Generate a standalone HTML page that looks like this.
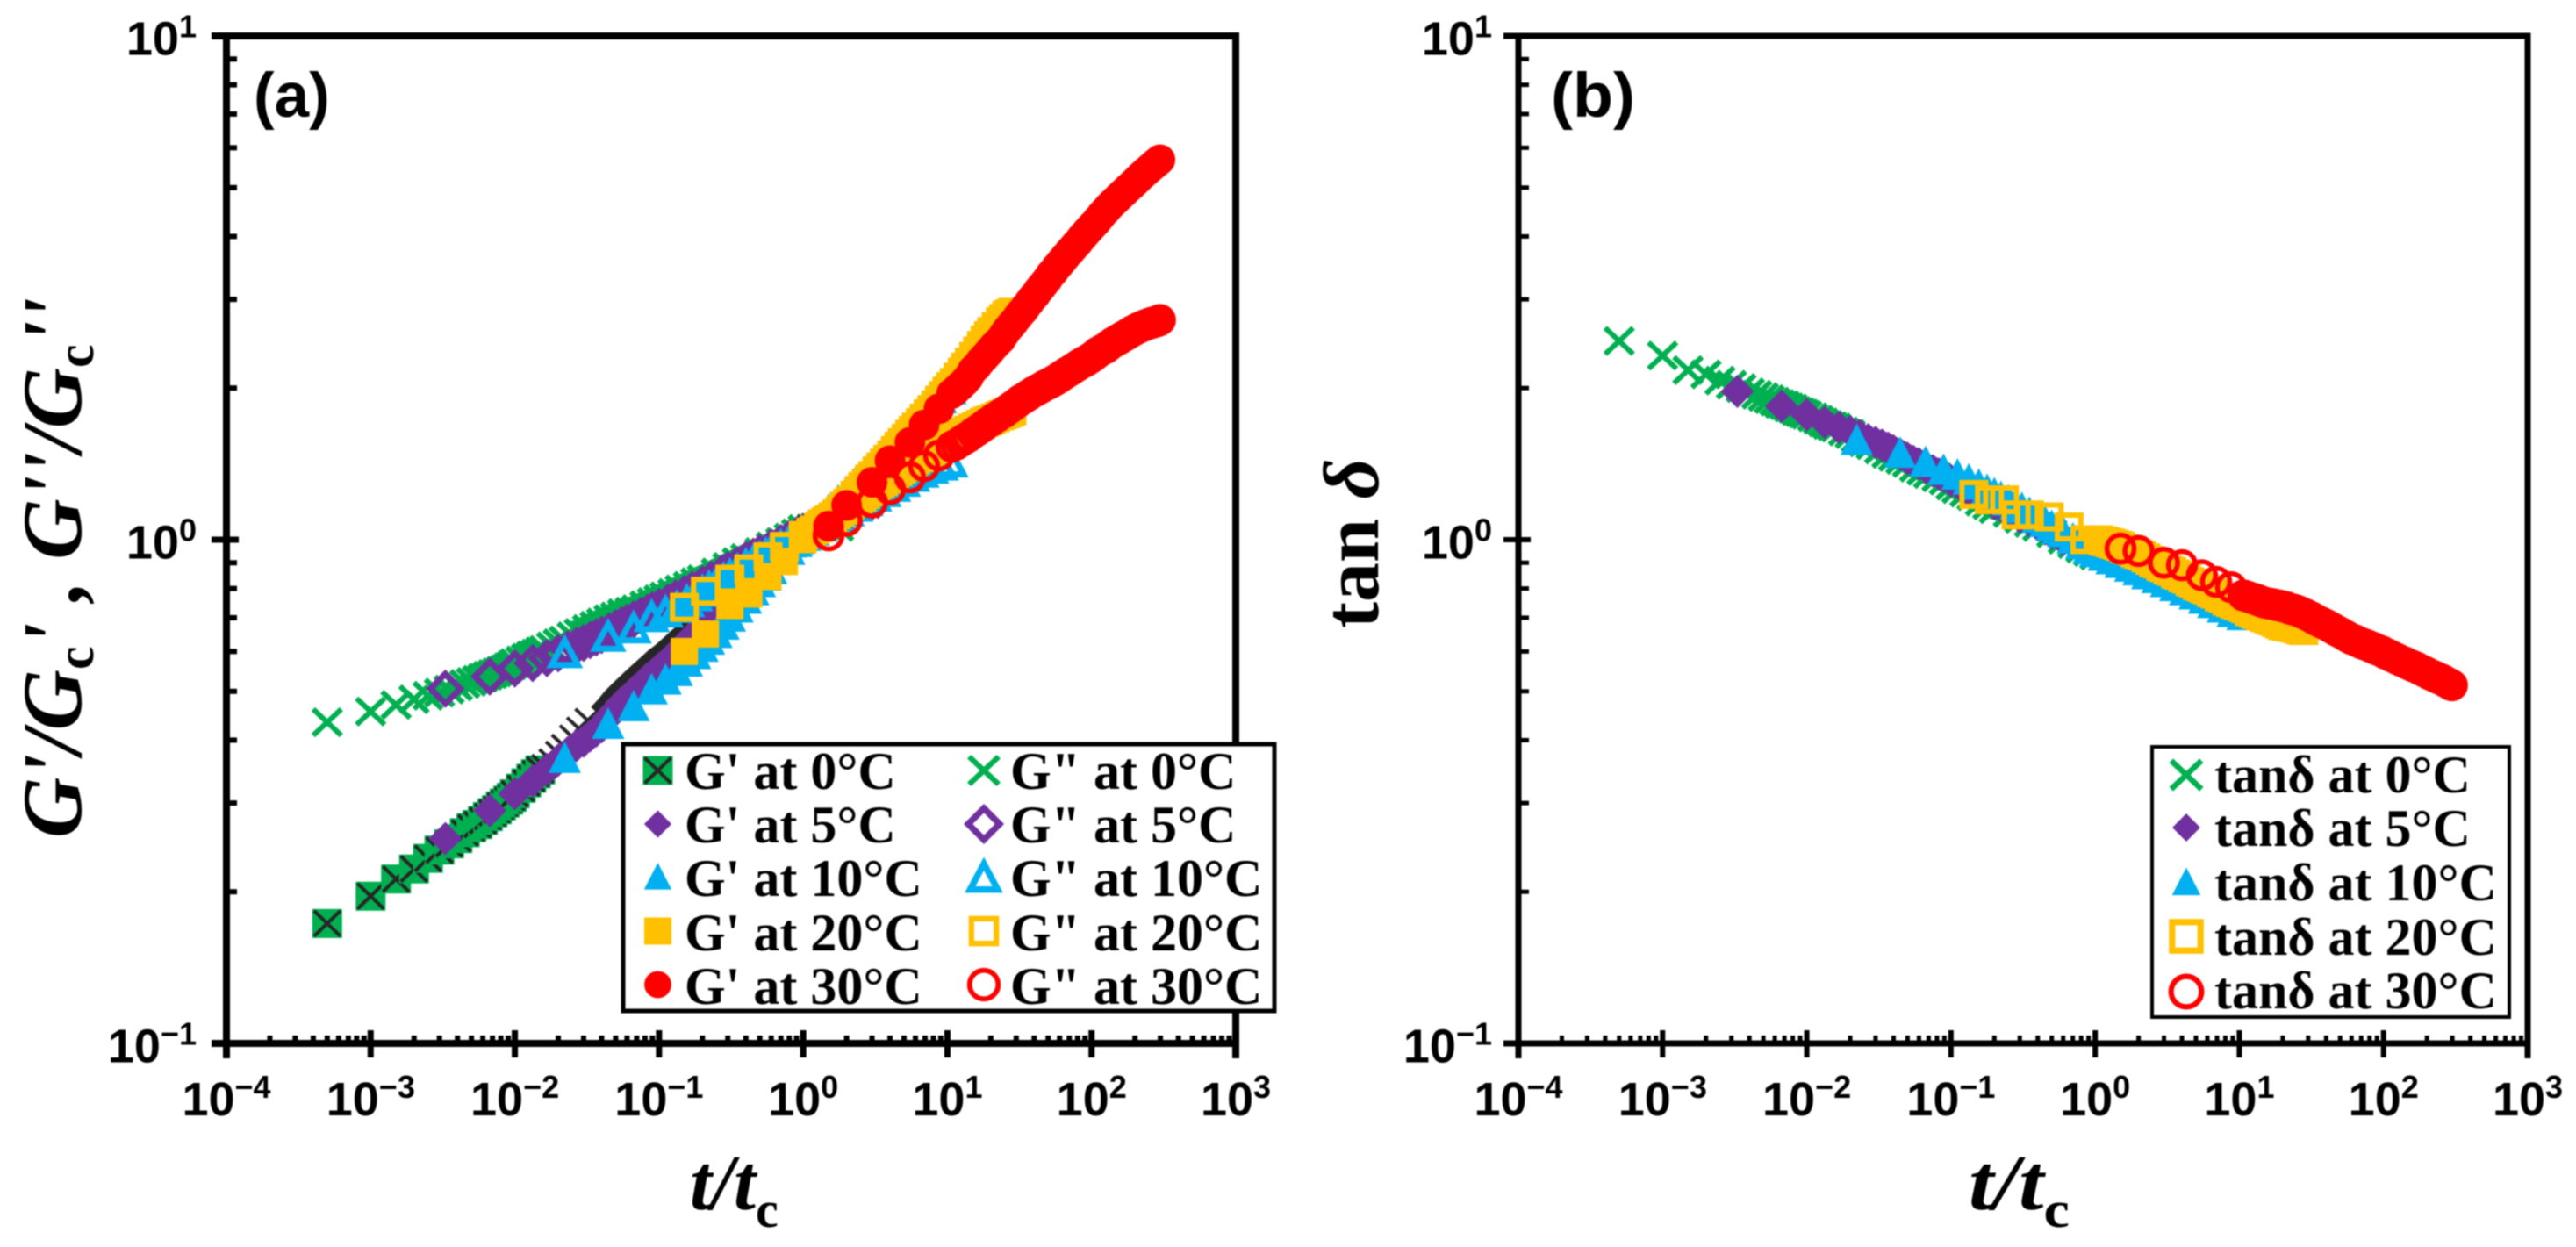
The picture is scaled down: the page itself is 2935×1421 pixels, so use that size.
<!DOCTYPE html>
<html lang="en">
<head>
<meta charset="utf-8">
<title>G'/Gc', G''/Gc'' and tan delta versus t/tc</title>
<style>
html,body{margin:0;padding:0;background:#fff;}
svg{display:block;filter:blur(0.7px);}
.tick{font-family:"Liberation Sans",sans-serif;font-weight:700;font-size:54px;fill:#000;}
.leg{font-family:"Liberation Serif",serif;font-weight:700;font-size:60px;fill:#000;}
.ttl{font-family:"Liberation Serif",serif;font-weight:700;font-style:italic;font-size:90px;fill:#000;}
.pl{font-family:"Liberation Sans",sans-serif;font-weight:700;font-size:71px;fill:#000;}
</style>
</head>
<body>
<svg id="fig" xmlns="http://www.w3.org/2000/svg" width="2935" height="1421" viewBox="0 0 2935 1421">
  <rect x="0" y="0" width="2935" height="1421" fill="#fff"/>
  <g id="panelA"></g>
  <g id="panelB"></g>
  <text class="pl" x="289" y="133">(a)</text>
  <text class="pl" x="1767" y="133" transform="translate(1767 0) scale(1.06 1) translate(-1767 0)">(b)</text>
  <text class="ttl" font-size="96" style="font-size:96px" transform="translate(92 955) rotate(-90)">G'/G<tspan dy="14" font-size="60" style="font-size:60px;font-style:normal">c</tspan><tspan dy="-14">' , G''/G</tspan><tspan dy="14" font-size="60" style="font-size:60px;font-style:normal">c</tspan><tspan dy="-14">''</tspan></text>
  <text class="ttl" x="786" y="1378">t/t<tspan dy="20" style="font-size:58px;font-style:normal">c</tspan></text>
  <text class="ttl" transform="translate(1570 716) rotate(-90)"><tspan style="font-style:normal">tan </tspan>δ</text>
  <text class="ttl" transform="translate(2243 1378) scale(1.14 1)">t/t<tspan dy="20" style="font-size:58px;font-style:normal">c</tspan></text>
</svg>
<script>
// ---------- tick data ----------
const xTickExps = [-4, -3, -2, -1, 0, 1, 2, 3];
const yTickExps = [-1, 0, 1];
const minorMults = [2, 3, 4, 5, 6, 7, 8, 9];

// ---------- reduced time per series ----------
const t0 = [.0005,.001,.0015,.002,.0025,.003,.0035,.004,.0045,.005,
  .0055,.006,.0065,.007,.0075,.008,.0085,.009,.0095,.01,
  .011,.012,.013,.014,.015,.016,.018,.02,.022,.025,
  .028,.032,.036,.04,.045,.05,.056,.063,.07,.08,
  .09,.1,.11,.125,.14,.16,.18,.2,.25,.3,
  .35,.4,.5,.6,.7,.8,.9,1];
const t0Tail = [.0005,.001,.0015,.002,.0025,.003,.0035,.004,.0045,.005,
  .0055,.006,.0065,.007,.0075,.008,.0085,.009,.0095,.01,
  .011,.012,.013,.014,.015,.016,.018,.02,.022,.025,
  .028,.032,.036,.04,.045,.05,.056,.063,.07,.08,
  .09,.1,.11,.125,.14,.16,.18,.2,.25,.3,
  .35,.4,.5,.6,.7,.8,.9,1,1.2,1.5,1.76];
const t5 = [.0033,.0067,.01,.0133,.0167,.02,.0233,.0267,.03,.0333,
  .0367,.04,.045,.05,.055,.06,.067,.075,.083,.09,
  .1,.115,.13,.15,.17,.2,.23,.27,.3,.35,
  .4,.45,.5,.6,.7,.8,.9,1,1.2,1.4,
  1.7,2,2.5,3,3.3];
const t10 = [.0222,.0444,.0667,.0889,.111,.133,.156,.178,.2,.222,
  .25,.28,.31,.35,.4,.45,.5,.55,.6,.7,
  .8,.9,1,1.15,1.3,1.5,1.75,2,2.3,2.7,
  3.1,3.6,4.2,4.9,5.7,6.6,7.7,9,10.5];
const t20 = [.15,.21,.31,.42,.57,.74,1.0,1.13,1.2,1.28,
  1.35,1.43,1.5,1.6,1.7,1.8,1.9,2,2.1,2.25,
  2.4,2.55,2.7,2.85,3,3.2,3.4,3.6,3.8,4.05,
  4.3,4.55,4.8,5.1,5.4,5.7,6,6.4,6.8,7.25,
  7.7,8.2,8.7,9.25,9.8,10.4,11,11.7,12.5,13.2,
  14,15,16,17,18,19,20,21.5,23,24.2,
  25.5,26.7,28];
const tb20 = [.144,.185,.235,.283,.35,.48,.66,.85,1.05,1.13,1.2,1.28,
  1.35,1.43,1.5,1.6,1.7,1.8,1.9,2,2.1,2.25,
  2.4,2.55,2.7,2.85,3,3.2,3.4,3.6,3.8,4.05,
  4.3,4.55,4.8,5.1,5.4,5.7,6,6.4,6.8,7.25,
  7.7,8.2,8.7,9.25,9.8,10.4,11,11.7,12.5,13.2,
  14,15,16,17,18,19,20,21.5,23,24.2,
  25.5,26.7,28];
const t30 = [1.5,2,3,4,5.5,6.9,8.75,10.7,11.5,12.3,
  13.2,14,15,16,17,18,19,20,21,22.2,
  23.5,24.8,26,27.5,29,30.5,32,33.5,35,37,
  39,41,43,45,47,49.5,52,54.5,57,60,
  63,66,70,73.5,77,81,85,89,93,97.5,
  102,107,112,118,125,132,140,147,155,162,
  170,180,190,200,210,220,230,242,255,267,
  280,290,298];

// ---------- panel (a) storage modulus ratio ----------
const gp0 = [.173,.196,.212,.222,.233,.242,.249,.255,.262,.268,
  .272,.277,.282,.287,.291,.296,.300,.304,.308,.313,
  .321,.329,.336,.343,.349,.355,.364,.377,.389,.406,
  .421,.438,.457,.472,.492,.507,.523,.54,.555,.574,
  .592,.606,.621,.642,.66,.68,.70,.725,.76,.79,
  .82,.85,.89,.93,.97,1.0,1.06,1.11];
const gp5 = [.255,.29,.313,.332,.35,.365,.378,.39,.398,.408,
  .417,.425,.445,.46,.475,.485,.50,.515,.53,.54,
  .555,.575,.595,.62,.64,.675,.71,.745,.77,.80,
  .83,.855,.88,.92,.955,.985,1.01,1.035,1.07,1.10,
  1.14,1.18,1.25,1.31,1.35];
const gp10 = [.367,.429,.465,.502,.525,.546,.57,.59,.61,.63,
  .65,.675,.70,.73,.76,.79,.82,.845,.87,.91,
  .95,.985,1.02,1.06,1.095,1.14,1.19,1.24,1.29,1.35,
  1.40,1.46,1.53,1.6,1.67,1.74,1.83,1.9,1.98];
const gp20 = [.6,.65,.74,.78,.845,.905,1.0,1.035,1.05,1.065,
  1.08,1.09,1.10,1.115,1.13,1.15,1.17,1.185,1.20,1.23,
  1.255,1.28,1.30,1.325,1.345,1.375,1.40,1.425,1.45,1.48,
  1.51,1.54,1.565,1.595,1.625,1.655,1.68,1.715,1.75,1.785,
  1.82,1.86,1.90,1.94,1.98,2.02,2.06,2.11,2.16,2.21,
  2.26,2.32,2.38,2.44,2.5,2.55,2.6,2.66,2.72,2.76,
  2.8,2.82,2.84];
const gp30 = [1.064,1.17,1.30,1.435,1.56,1.69,1.82,1.95,1.985,2.02,
  2.06,2.10,2.17,2.21,2.26,2.30,2.34,2.38,2.42,2.46,
  2.50,2.56,2.61,2.66,2.71,2.76,2.81,2.85,2.90,2.96,
  3.02,3.07,3.13,3.18,3.23,3.29,3.36,3.41,3.47,3.53,
  3.59,3.65,3.72,3.78,3.84,3.90,3.97,4.03,4.09,4.15,
  4.21,4.27,4.34,4.42,4.5,4.58,4.66,4.72,4.79,4.85,
  4.91,4.99,5.06,5.13,5.2,5.27,5.33,5.4,5.47,5.53,
  5.6,5.64,5.68];

// ---------- panel (a) loss modulus ratio ----------
const gpp0 = [.434,.456,.470,.482,.490,.497,.504,.511,.517,.522,
  .527,.532,.537,.541,.545,.549,.553,.558,.563,.569,
  .576,.583,.589,.594,.6,.604,.614,.623,.631,.643,
  .653,.665,.675,.685,.696,.704,.715,.72,.728,.741,
  .752,.762,.772,.784,.797,.81,.824,.835,.861,.883,
  .903,.92,.945,.97,.99,1.01,1.03,1.05,1.055,1.06,1.06];
const gpp5 = [.506,.535,.555,.569,.582,.595,.606,.615,.624,.632,
  .64,.647,.657,.667,.676,.684,.695,.706,.716,.724,
  .735,.75,.764,.78,.795,.815,.833,.855,.87,.89,
  .91,.925,.94,.965,.985,1.005,1.02,1.035,1.06,1.08,
  1.11,1.135,1.17,1.19,1.2];
const gpp10 = [.594,.64,.665,.70,.715,.73,.75,.77,.785,.80,
  .815,.83,.845,.865,.885,.90,.915,.93,.945,.965,
  .985,1.0,1.015,1.04,1.06,1.085,1.11,1.135,1.16,1.19,
  1.215,1.24,1.27,1.30,1.33,1.355,1.38,1.40,1.42];
const gpp20 = [.734,.79,.835,.875,.925,.97,1.02,1.035,1.045,1.055,
  1.07,1.08,1.09,1.105,1.12,1.135,1.145,1.16,1.17,1.185,
  1.20,1.215,1.23,1.245,1.26,1.275,1.29,1.305,1.32,1.335,
  1.35,1.365,1.38,1.395,1.41,1.425,1.44,1.455,1.47,1.485,
  1.50,1.515,1.53,1.545,1.56,1.575,1.59,1.605,1.62,1.635,
  1.65,1.665,1.68,1.695,1.71,1.72,1.73,1.745,1.76,1.77,
  1.78,1.79,1.80];
const gpp30 = [1.02,1.09,1.186,1.26,1.33,1.40,1.47,1.53,1.545,1.565,
  1.585,1.60,1.625,1.645,1.665,1.685,1.705,1.72,1.74,1.755,
  1.775,1.79,1.81,1.83,1.85,1.87,1.89,1.905,1.92,1.94,
  1.96,1.975,1.99,2.005,2.02,2.035,2.05,2.065,2.08,2.10,
  2.12,2.14,2.16,2.18,2.20,2.22,2.24,2.255,2.27,2.29,
  2.31,2.335,2.36,2.38,2.40,2.43,2.46,2.48,2.50,2.52,
  2.54,2.565,2.59,2.61,2.63,2.645,2.66,2.675,2.69,2.70,
  2.71,2.72,2.73];

// ---------- panel (b) loss tangent ----------
const tan0 = [2.48,2.32,2.17,2.13,2.07,2.03,2.0,1.96,1.94,1.92,
  1.90,1.88,1.86,1.85,1.83,1.82,1.80,1.79,1.78,1.77,
  1.75,1.73,1.71,1.69,1.68,1.67,1.64,1.62,1.59,1.56,
  1.54,1.51,1.48,1.46,1.44,1.42,1.39,1.37,1.35,1.33,
  1.31,1.28,1.26,1.24,1.22,1.19,1.17,1.15,1.13,1.10,
  1.08,1.06,1.03,1.0,.98,.96,.945,.93];
const tan5 = [1.97,1.84,1.77,1.71,1.67,1.64,1.61,1.58,1.56,1.54,
  1.52,1.50,1.475,1.45,1.43,1.415,1.39,1.37,1.35,1.335,
  1.31,1.285,1.26,1.235,1.21,1.18,1.155,1.13,1.11,1.09,
  1.07,1.05,1.03,1.0,.985,.97,.96,.95,.93,.915,
  .895,.875,.855,.835,.825];
const tan10 = [1.57,1.48,1.42,1.37,1.34,1.31,1.28,1.25,1.23,1.21,
  1.19,1.17,1.15,1.125,1.10,1.08,1.06,1.045,1.03,1.0,
  .975,.955,.94,.925,.91,.895,.88,.865,.85,.835,
  .82,.805,.79,.775,.76,.745,.73,.715,.705];
const tan20 = [1.23,1.2,1.2,1.12,1.12,1.11,1.06,1.0,1.0,.995,.99,.985,
  .98,.975,.97,.96,.955,.95,.94,.935,.93,.92,
  .91,.90,.895,.885,.88,.87,.865,.855,.85,.84,
  .835,.825,.82,.81,.805,.80,.795,.785,.78,.77,
  .765,.755,.75,.745,.74,.735,.73,.72,.715,.71,
  .705,.70,.695,.69,.685,.68,.675,.672,.67,.668,
  .665,.662,.66];
const tan30 = [.96,.95,.90,.89,.85,.825,.805,.775,.77,.765,
  .76,.755,.75,.747,.745,.742,.74,.737,.735,.73,
  .727,.724,.72,.715,.71,.705,.70,.695,.69,.685,
  .68,.675,.67,.665,.66,.655,.65,.645,.64,.635,
  .632,.628,.623,.62,.617,.613,.61,.606,.603,.60,
  .595,.592,.588,.584,.579,.575,.571,.567,.563,.56,
  .557,.552,.548,.544,.54,.537,.534,.53,.527,.523,
  .519,.516,.514];

// ---------- legend text ----------
const legendALeft = ["G' at 0°C", "G' at 5°C", "G' at 10°C", "G' at 20°C", "G' at 30°C"];
const legendARight = ['G" at 0°C', 'G" at 5°C', 'G" at 10°C', 'G" at 20°C', 'G" at 30°C'];
const legendB = ["tanδ at 0°C", "tanδ at 5°C", "tanδ at 10°C", "tanδ at 20°C", "tanδ at 30°C"];

const GREEN = '#00B050', PURPLE = '#7030A0', CYAN = '#00B0F0', YELLOW = '#FFC000', RED = '#FF0000', DARK = '#262626';
const NS = 'http://www.w3.org/2000/svg';

const topY = 41, decadeY = 574;
function yScale(v) { return topY + (1 - Math.log10(v)) * decadeY; }
function makeXScale(left, right) {
  const dec = (right - left) / 7;
  return function (t) { return left + (Math.log10(t) + 4) * dec; };
}

function svgEl(parent, tag, attrs) {
  const el = document.createElementNS(NS, tag);
  for (const k in attrs) el.setAttribute(k, attrs[k]);
  parent.appendChild(el);
  return el;
}

function drawLine(g, x1, y1, x2, y2, w, name) {
  const el = svgEl(g, 'line', { x1: x1, y1: y1, x2: x2, y2: y2, stroke: '#000', 'stroke-width': w });
  
  
  return el;
}

function drawTickLabel(g, x, y, exp, anchor, name) {
  const el = svgEl(g, 'text', { x: x, y: y, 'text-anchor': anchor, 'class': 'tick' });
  
  
  el.appendChild(document.createTextNode('10'));
  const sup = svgEl(el, 'tspan', { dy: -20, style: 'font-size:36px' });
  sup.textContent = String(exp).replace('-', '−');
}

function marker(g, shape, cx, cy, color, name, k) {
  const m = svgEl(g, 'g', {});
  
  
  if (k) m.setAttribute('transform', `translate(${cx} ${cy}) scale(${k}) translate(${-cx} ${-cy})`);
  if (shape === 'boxcross') {
    svgEl(m, 'rect', { x: cx - 17, y: cy - 16.5, width: 34, height: 33, fill: color });
    svgEl(m, 'path', { d: `M${cx-15} ${cy-14.5}L${cx+15} ${cy+14.5}M${cx-15} ${cy+14.5}L${cx+15} ${cy-14.5}`, stroke: DARK, 'stroke-width': 4, fill: 'none' });
  } else if (shape === 'darkcross') {
    svgEl(m, 'path', { d: `M${cx-14} ${cy-13}L${cx+14} ${cy+13}M${cx-14} ${cy+13}L${cx+14} ${cy-13}`, stroke: DARK, 'stroke-width': 4, fill: 'none' });
  } else if (shape === 'cross') {
    svgEl(m, 'path', { d: `M${cx-16} ${cy-15}L${cx+16} ${cy+15}M${cx-16} ${cy+15}L${cx+16} ${cy-15}`, stroke: color, 'stroke-width': 6, fill: 'none' });
  } else if (shape === 'diamond') {
    svgEl(m, 'path', { d: `M${cx} ${cy-19}L${cx+19} ${cy}L${cx} ${cy+19}L${cx-19} ${cy}Z`, fill: color });
  } else if (shape === 'odiamond') {
    svgEl(m, 'path', { d: `M${cx} ${cy-17}L${cx+17} ${cy}L${cx} ${cy+17}L${cx-17} ${cy}Z`, fill: 'none', stroke: color, 'stroke-width': 7 });
  } else if (shape === 'triangle') {
    svgEl(m, 'path', { d: `M${cx} ${cy-20}L${cx+18.5} ${cy+16}L${cx-18.5} ${cy+16}Z`, fill: color });
  } else if (shape === 'otriangle') {
    svgEl(m, 'path', { d: `M${cx} ${cy-15}L${cx+15} ${cy+13}L${cx-15} ${cy+13}Z`, fill: 'none', stroke: color, 'stroke-width': 7 });
  } else if (shape === 'square') {
    svgEl(m, 'rect', { x: cx - 15.5, y: cy - 15.5, width: 31, height: 31, fill: color });
  } else if (shape === 'osquare') {
    svgEl(m, 'rect', { x: cx - 13.5, y: cy - 13.5, width: 27, height: 27, fill: 'none', stroke: color, 'stroke-width': 6 });
  } else if (shape === 'circle') {
    svgEl(m, 'circle', { cx: cx, cy: cy, r: 17.5, fill: color });
  } else if (shape === 'ocircle') {
    svgEl(m, 'circle', { cx: cx, cy: cy, r: 15.5, fill: 'none', stroke: color, 'stroke-width': 5.5 });
  }
  return m;
}

function drawSeries(g, xs, ys, xScale, shape, color, name) {
  const sg = svgEl(g, 'g', {});
  
  
  for (let i = 0; i < xs.length; i++) {
    marker(sg, shape, xScale(xs[i]), yScale(ys[i]), color, name + '-point');
  }
}

// solid band where the real data are so dense the markers merge
function drawBand(g, xs, ys, xScale, fromT, dy, width, color, name) {
  const pts = [];
  for (let i = 0; i < xs.length; i++) {
    if (xs[i] >= fromT) pts.push(xScale(xs[i]).toFixed(1) + ',' + (yScale(ys[i]) + dy).toFixed(1));
  }
  const el = svgEl(g, 'polyline', { points: pts.join(' '), fill: 'none', stroke: color, 'stroke-width': width, 'stroke-linejoin': 'round' });
  
  
}

// G' at 0°C: box+cross while points are separated, bare dark crosses then a dark band where they merge
function drawG0(g, xs, ys, xScale, boxUntil, crossUntil, name) {
  const sg = svgEl(g, 'g', {});
  
  
  for (let i = 0; i < xs.length; i++) {
    if (xs[i] < crossUntil) {
      marker(sg, xs[i] < boxUntil ? 'boxcross' : 'darkcross', xScale(xs[i]), yScale(ys[i]), GREEN, name + '-point');
    }
  }
  drawBand(sg, xs, ys, xScale, crossUntil, 0, 13, DARK, name + '-dense-band');
}

function drawAxes(g, left, right, sw, tickW, labelX, xScale, prefix) {
  const bottom = yScale(0.1);
  drawLine(g, left, topY - sw / 2, left, bottom + 17, sw, prefix + '-y-axis-line');
  drawLine(g, left - 17, bottom, right + sw / 2, bottom, sw, prefix + '-x-axis-line');
  drawLine(g, left - 17, topY, right + sw / 2, topY, sw, prefix + '-top-border');
  drawLine(g, right, topY - sw / 2, right, bottom + 17, sw, prefix + '-right-border');

  xTickExps.forEach(function (e) {
    const x = xScale(Math.pow(10, e));
    drawLine(g, x, bottom - 15, x, bottom + 16, tickW, prefix + '-x-major-tick');
    drawTickLabel(g, x, 1271, e, 'middle', prefix + '-x-tick-label');
    if (e < 3) {
      minorMults.forEach(function (m) {
        const xm = xScale(m * Math.pow(10, e));
        drawLine(g, xm, bottom - 9, xm, bottom, tickW - 1, prefix + '-x-minor-tick');
      });
    }
  });
  yTickExps.forEach(function (e) {
    const y = yScale(Math.pow(10, e));
    drawLine(g, left - 17, y, left + 14, y, tickW, prefix + '-y-major-tick');
    drawTickLabel(g, labelX, y + 21.5, e, 'end', prefix + '-y-tick-label');
    if (e < 1) {
      minorMults.forEach(function (m) {
        const ym = yScale(m * Math.pow(10, e));
        drawLine(g, left, ym, left + 12, ym, tickW - 1, prefix + '-y-minor-tick');
      });
    }
  });
}

function drawLegendBox(g, x, y, w, h, sw, name) {
  const el = svgEl(g, 'rect', { x: x, y: y, width: w, height: h, fill: '#fff', stroke: '#000', 'stroke-width': sw });
  
  
}

function legendEntry(g, shape, color, mx, my, k, tx, ty, label, name) {
  const entry = svgEl(g, 'g', {});
  
  
  marker(entry, shape, mx, my, color, name + '-marker', k);
  const t = svgEl(entry, 'text', { x: tx, y: ty, 'class': 'leg' });
  
  
  t.textContent = label;
}

// ---------- panel (a) ----------
(function () {
  const g = document.getElementById('panelA');
  const left = 258, right = 1408;
  const xa = makeXScale(left, right);
  drawG0(g, t0, gp0, xa, 0.016, 0.036, 'gprime-0c');
  drawSeries(g, t0Tail, gpp0, xa, 'cross', GREEN, 'gdoubleprime-0c');
  drawBand(g, t0Tail, gpp0, xa, 0.025, -12, 10, GREEN, 'gdoubleprime-0c-dense-band');
  drawSeries(g, t5, gp5, xa, 'diamond', PURPLE, 'gprime-5c');
  drawBand(g, t5, gpp5, xa, 0.03, 0, 30, PURPLE, 'gdoubleprime-5c-dense-band');
  drawSeries(g, t5, gpp5, xa, 'odiamond', PURPLE, 'gdoubleprime-5c');
  drawSeries(g, t10, gp10, xa, 'triangle', CYAN, 'gprime-10c');
  drawSeries(g, t10, gpp10, xa, 'otriangle', CYAN, 'gdoubleprime-10c');
  drawSeries(g, t20, gp20, xa, 'square', YELLOW, 'gprime-20c');
  drawSeries(g, t20, gpp20, xa, 'osquare', YELLOW, 'gdoubleprime-20c');
  drawSeries(g, t30, gp30, xa, 'circle', RED, 'gprime-30c');
  drawSeries(g, t30, gpp30, xa, 'ocircle', RED, 'gdoubleprime-30c');
  drawAxes(g, left, right, 8, 7, 224, xa, 'panel-a');
  const leg = svgEl(g, 'g', {});
  
  
  drawLegendBox(leg, 710, 848, 742, 304, 5, 'panel-a-legend-box');
  const shapesL = ['boxcross', 'diamond', 'triangle', 'square', 'circle'];
  const shapesR = ['cross', 'odiamond', 'otriangle', 'osquare', 'ocircle'];
  const kL = [1, 0.82, 0.85, 1, 0.88];
  const colors = [GREEN, PURPLE, CYAN, YELLOW, RED];
  const rowY = [878, 939, 1000, 1061, 1122];
  const baseY = [899, 960, 1021, 1083, 1144];
  for (let i = 0; i < 5; i++) {
    legendEntry(leg, shapesL[i], colors[i], 749.5, rowY[i], kL[i], 780, baseY[i], legendALeft[i], 'legend-entry-gprime');
    legendEntry(leg, shapesR[i], colors[i], 1121, rowY[i], 1.05, 1151, baseY[i], legendARight[i], 'legend-entry-gdoubleprime');
  }
})();

// ---------- panel (b) ----------
(function () {
  const g = document.getElementById('panelB');
  const left = 1730, right = 2880;
  const xb = makeXScale(left, right);
  drawSeries(g, t0, tan0, xb, 'cross', GREEN, 'tan-delta-0c');
  drawBand(g, t0, tan0, xb, 0.03, 0, 24, GREEN, 'tan-delta-0c-dense-band');
  drawBand(g, t5, tan5, xb, 0.03, -3, 26, PURPLE, 'tan-delta-5c-dense-band');
  drawSeries(g, t5, tan5, xb, 'diamond', PURPLE, 'tan-delta-5c');
  drawSeries(g, t10, tan10, xb, 'triangle', CYAN, 'tan-delta-10c');
  drawSeries(g, tb20, tan20, xb, 'osquare', YELLOW, 'tan-delta-20c');
  drawSeries(g, t30, tan30, xb, 'ocircle', RED, 'tan-delta-30c');
  drawAxes(g, left, right, 7, 6, 1700, xb, 'panel-b');
  const leg = svgEl(g, 'g', {});
  
  
  drawLegendBox(leg, 2452, 851, 407, 308, 4, 'panel-b-legend-box');
  const shapes = ['cross', 'diamond', 'triangle', 'osquare', 'ocircle'];
  const kB = [1.08, 0.84, 0.88, 1.2, 1.12];
  const colors = [GREEN, PURPLE, CYAN, YELLOW, RED];
  const rowY = [883, 943, 1006, 1067, 1130];
  const baseY = [903, 964, 1026, 1088, 1149];
  for (let i = 0; i < 5; i++) {
    legendEntry(leg, shapes[i], colors[i], 2491, rowY[i], kB[i], 2523, baseY[i], legendB[i], 'legend-entry-tan-delta');
  }
})();
</script>
</body>
</html>
